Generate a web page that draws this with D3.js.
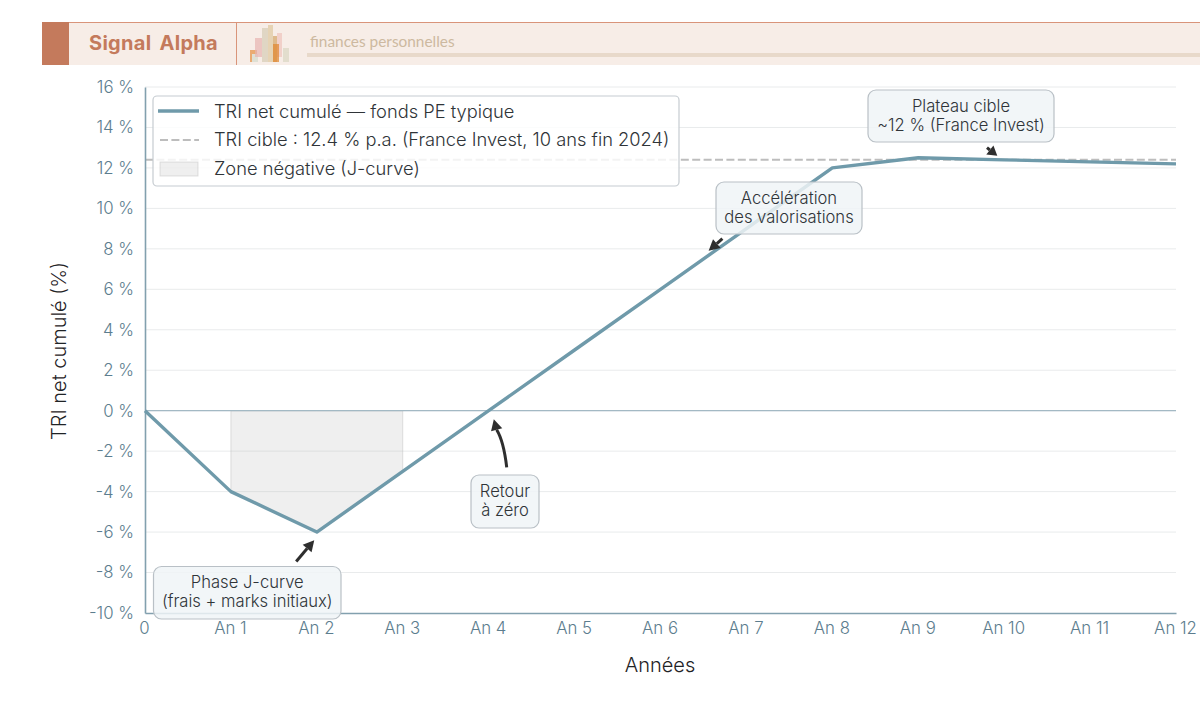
<!DOCTYPE html>
<html lang="fr">
<head>
<meta charset="utf-8">
<script src="https://cdn.jsdelivr.net/npm/d3@7"></script>
<style>
html,body{margin:0;padding:0;background:#fff}
svg{display:block}
text{font-family:Inter,"Noto Sans",sans-serif;font-weight:300}
</style>
</head>
<body>
<svg id="chart" width="1200" height="721"></svg>
<script>
// Net cumulative IRR of a typical private equity fund, year by year
const yearLabels = ["0","An 1","An 2","An 3","An 4","An 5","An 6","An 7","An 8","An 9","An 10","An 11","An 12"];
const irrValues = [0,-4,-6,-3,0,3,6,9,12,12.5,12.4,12.3,12.2];
const targetIrr = 12.4;
const yTicks = [-10,-8,-6,-4,-2,0,2,4,6,8,10,12,14,16];
const negativeZoneYears = [1,2,3];
const legendLabels = ["TRI net cumulé — fonds PE typique","TRI cible : 12.4 % p.a. (France Invest, 10 ans fin 2024)","Zone négative (J-curve)"];

const noteLines = [
  ["Phase J-curve","(frais + marks initiaux)"],
  ["Retour","à zéro"],
  ["Accélération","des valorisations"],
  ["Plateau cible","~12 % (France Invest)"]
];
// Arrow ends in data units: [tail year, tail %, tip year, tip %]
const noteArrows = [
  [1.76,-7.45,1.97,-6.4],
  [4.21,-2.8,4.06,-0.42],
  [6.72,8.5,6.56,7.9],
  [9.8,13.0,9.92,12.6]
];

const svg = d3.select("#chart");
const plot = {left:145,right:1176,top:87,bottom:613};
const x = d3.scaleLinear().domain([0,12]).range([plot.left,plot.right]);
const y = d3.scaleLinear().domain([-10,16]).range([plot.bottom,plot.top]);

const lineColor = "#6f9aaa", axisColor = "#82a0ae", tickColor = "#5c7d8e";
const inkColor = "#2f3438";

// Header band
const header = svg.append("g");
header.append("rect").attr("x",42).attr("y",22).attr("width",1158).attr("height",43).attr("fill","#f7ede7");
header.append("rect").attr("x",42).attr("y",22).attr("width",1158).attr("height",1).attr("fill","#d9947a");
header.append("rect").attr("x",42).attr("y",22).attr("width",27).attr("height",43).attr("fill","#c47a5c");
header.append("rect").attr("x",236).attr("y",22).attr("width",1).attr("height",43).attr("fill","#d9947a");
header.append("text").attr("x",89).attr("y",50).attr("font-size",20).attr("letter-spacing",0.3).attr("word-spacing",3)
  .style("font-weight",700).attr("fill","#c47a5c").text("Signal Alpha");
header.append("text").attr("x",310).attr("y",47).attr("font-size",15.4).attr("fill","#cdb9a0")
  .style("font-family","Lato,'Open Sans',sans-serif").style("font-weight",400).text("finances personnelles");
header.append("rect").attr("x",307).attr("y",53).attr("width",893).attr("height",4).attr("fill","#e8d9ca");

// Small skyline logo
const logoBars = [
  [250,50,7,12,"#e69a55",.8],[252,54,6,8,"#dfe0d4",1],[255,38,7,19,"#e7b3b0",.7],
  [262,28,6,34,"#e0d6c4",1],[268,25,5,37,"#e3cfae",.9],[273,36,4,26,"#d7ad76",.8],
  [277,33,5,24,"#edbcb6",.6],[273,44,6,18,"#e08a35",.75],[283,48,6,14,"#e2ddcd",1]
];
header.selectAll("rect.logo").data(logoBars).join("rect").attr("class","logo")
  .attr("x",d=>d[0]).attr("y",d=>d[1]).attr("width",d=>d[2]).attr("height",d=>d[3])
  .attr("fill",d=>d[4]).attr("opacity",d=>d[5]);

// Horizontal grid
svg.append("g").selectAll("line").data(yTicks.filter(t=>t!==-10)).join("line")
  .attr("x1",plot.left).attr("x2",plot.right).attr("y1",d=>y(d)).attr("y2",d=>y(d))
  .attr("stroke","#e9ebec").attr("stroke-width",1);

// Negative zone between zero and the curve
const zoneArea = d3.area().x(d=>x(d)).y0(y(0)).y1(d=>y(irrValues[d]));
svg.append("path").attr("d",zoneArea(negativeZoneYears)).attr("fill","#b5b5b5").attr("fill-opacity",.22)
  .attr("stroke","#b5b5b5").attr("stroke-opacity",.4);

// Zero reference
svg.append("line").attr("x1",plot.left).attr("x2",plot.right).attr("y1",y(0)).attr("y2",y(0))
  .attr("stroke","#a3b9c4").attr("stroke-width",1.3);

// Target IRR
svg.append("line").attr("x1",plot.left).attr("x2",plot.right).attr("y1",y(targetIrr)).attr("y2",y(targetIrr))
  .attr("stroke","#bdbdbd").attr("stroke-width",2).attr("stroke-dasharray","8 3.4");

// Axes
const xAxis = d3.axisBottom(x).tickValues(d3.range(yearLabels.length)).tickFormat(i=>yearLabels[i]).tickSize(0).tickPadding(9);
const yAxis = d3.axisLeft(y).tickValues(yTicks).tickFormat(d=>`${d<0?"-":""}${Math.abs(d)} %`).tickSize(0).tickPadding(11);
const gx = svg.append("g").attr("transform",`translate(-1,${plot.bottom})`).call(xAxis);
const gy = svg.append("g").attr("transform",`translate(${plot.left},0)`).call(yAxis);
[gx,gy].forEach(g=>{
  g.select(".domain").attr("stroke",axisColor).attr("stroke-width",1.6);
  g.selectAll("text").attr("fill",tickColor).attr("font-size",16.8);
});
gx.select(".domain").attr("transform","translate(1,0)");

// IRR curve
const curve = d3.line().x((d,i)=>x(i)).y(d=>y(d));
svg.append("path").attr("d",curve(irrValues)).attr("fill","none").attr("stroke",lineColor)
  .attr("stroke-width",3.4).attr("stroke-linejoin","round");

// Axis titles
svg.append("text").attr("x",660).attr("y",672).attr("text-anchor","middle").attr("font-size",20).attr("fill","#1f2326").text("Années");
svg.append("text").attr("transform","translate(66,351) rotate(-90)").attr("text-anchor","middle").attr("font-size",20).attr("fill","#1f2326").text("TRI net cumulé (%)");

// Legend
const legend = svg.append("g");
legend.append("rect").attr("x",153).attr("y",96).attr("width",526).attr("height",90).attr("rx",4)
  .attr("fill","#fff").attr("fill-opacity",.82).attr("stroke","#c6ccd1").attr("stroke-width",1.2);
legend.append("line").attr("x1",158).attr("x2",199).attr("y1",111).attr("y2",111).attr("stroke",lineColor).attr("stroke-width",3.4);
legend.append("line").attr("x1",160).attr("x2",199).attr("y1",140).attr("y2",140).attr("stroke","#bdbdbd").attr("stroke-width",2).attr("stroke-dasharray","8 3.4");
legend.append("rect").attr("x",160).attr("y",162).attr("width",38).attr("height",14).attr("fill","#b5b5b5").attr("fill-opacity",.22).attr("stroke","#b5b5b5").attr("stroke-opacity",.4);
legend.selectAll("text").data(legendLabels).join("text")
  .attr("x",214).attr("y",(d,i)=>117.5+i*28.7).attr("font-size",18.3).attr("fill",inkColor).text(d=>d);

// Callouts and their arrows
const noteBoxes = [
  {x:153.5,y:566.5,w:187.5,h:52.5},
  {x:471,y:475,w:68,h:53},
  {x:716,y:182,w:146,h:52},
  {x:868,y:90,w:186,h:52}
];
const notes = svg.append("g");
noteLines.forEach((lines,i)=>{
  const b = noteBoxes[i];
  notes.append("rect").attr("x",b.x).attr("y",b.y).attr("width",b.w).attr("height",b.h).attr("rx",8)
    .attr("fill","#f0f4f7").attr("fill-opacity",.84).attr("stroke","#b9c0c6").attr("stroke-width",1.2);
  lines.forEach((t,k)=>notes.append("text").attr("x",b.x+b.w/2).attr("y",b.y+21.5+k*19.3)
    .attr("text-anchor","middle").attr("font-size",16.6).attr("fill",inkColor).text(t));
});

// Arrow with a filled head; the second one bows slightly
noteArrows.forEach((a,i)=>{
  const x0=x(a[0]),y0=y(a[1]),x1=x(a[2]),y1=y(a[3]);
  const ang=Math.atan2(y1-y0,x1-x0), len=Math.hypot(x1-x0,y1-y0);
  const head=Math.min(11,len*.72), hw=5.8;
  const bx=x1-head*Math.cos(ang), by=y1-head*Math.sin(ang);
  const nx=-Math.sin(ang), ny=Math.cos(ang);
  const p=d3.path();
  p.moveTo(x0,y0);
  if(i===1) p.quadraticCurveTo(x0-3,y0-26,bx,by); else p.lineTo(bx,by);
  notes.append("path").attr("d",p.toString()).attr("fill","none").attr("stroke","#2e2e2e").attr("stroke-width",3);
  notes.append("path").attr("d",`M${x1},${y1}L${bx+nx*hw},${by+ny*hw}L${bx-nx*hw},${by-ny*hw}Z`).attr("fill","#2e2e2e");
});
</script>
</body>
</html>
